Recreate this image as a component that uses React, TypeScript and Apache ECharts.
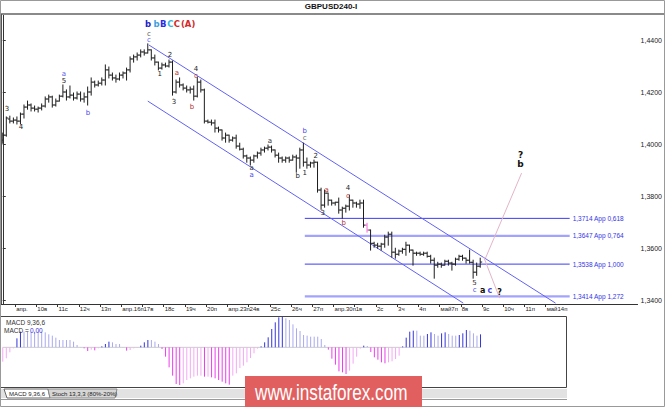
import React, { useEffect, useRef } from "react";
import * as echarts from "echarts";

// ---------------- data ----------------
const dayLabels = ["апр.", "10в", "11с", "12ч", "13п", "апр.16п", "17в", "18с", "19ч", "20п", "апр.23п", "24в", "25с", "26ч", "27п", "апр.30п", "1в", "2с", "3ч", "4п", "май7п", "8в", "9с", "10ч", "11п", "май14п"];
const barsPerDay = 6;
const firstDayBar = 4;
const slotCount = 180;

const opens = [
  1.4015, 1.4034, 1.4096, 1.4088, 1.4092, 1.4088, 1.4115, 1.4142, 1.4150, 1.4138,
  1.4134, 1.4138, 1.4146, 1.4173, 1.4181, 1.4150, 1.4165, 1.4184, 1.4200, 1.4181,
  1.4188, 1.4177, 1.4192, 1.4173, 1.4181, 1.4200, 1.4238, 1.4227, 1.4234, 1.4246,
  1.4285, 1.4265, 1.4254, 1.4250, 1.4265, 1.4273, 1.4285, 1.4327, 1.4335, 1.4342,
  1.4354, 1.4350, 1.4362, 1.4331, 1.4315, 1.4292, 1.4304, 1.4300, 1.4315, 1.4200,
  1.4238, 1.4227, 1.4215, 1.4208, 1.4211, 1.4184, 1.4238, 1.4208, 1.4088, 1.4084,
  1.4081, 1.4061, 1.4054, 1.4023, 1.4034, 1.4015, 1.4023, 1.3992, 1.3980, 1.3954,
  1.3946, 1.3938, 1.3954, 1.3965, 1.3977, 1.3984, 1.3988, 1.3977, 1.3957, 1.3946,
  1.3938, 1.3946, 1.3938, 1.3950, 1.3946, 1.3977, 1.3930, 1.3919, 1.3927, 1.3930,
  1.3823, 1.3765, 1.3811, 1.3784, 1.3773, 1.3776, 1.3746, 1.3753, 1.3761, 1.3784,
  1.3773, 1.3769, 1.3773, 1.3688, 1.3669, 1.3618, 1.3611, 1.3607, 1.3615, 1.3642,
  1.3653, 1.3584, 1.3576, 1.3588, 1.3595, 1.3611, 1.3592, 1.3580, 1.3580, 1.3576,
  1.3580, 1.3568, 1.3553, 1.3534, 1.3538, 1.3534, 1.3549, 1.3542, 1.3538, 1.3557,
  1.3568, 1.3561, 1.3553, 1.3545, 1.3507, 1.3530,
];
const highs = [
  1.4042, 1.4104, 1.4107, 1.4100, 1.4104, 1.4119, 1.4150, 1.4165, 1.4154, 1.4146,
  1.4142, 1.4154, 1.4181, 1.4188, 1.4184, 1.4173, 1.4188, 1.4227, 1.4208, 1.4223,
  1.4196, 1.4200, 1.4200, 1.4196, 1.4219, 1.4254, 1.4242, 1.4242, 1.4254, 1.4304,
  1.4296, 1.4273, 1.4265, 1.4273, 1.4277, 1.4292, 1.4335, 1.4342, 1.4350, 1.4362,
  1.4362, 1.4385, 1.4362, 1.4342, 1.4315, 1.4311, 1.4311, 1.4323, 1.4319, 1.4246,
  1.4254, 1.4231, 1.4223, 1.4219, 1.4223, 1.4258, 1.4246, 1.4211, 1.4092, 1.4092,
  1.4092, 1.4065, 1.4054, 1.4042, 1.4034, 1.4027, 1.4034, 1.4003, 1.3984, 1.3957,
  1.3950, 1.3957, 1.3969, 1.3984, 1.3988, 1.3996, 1.3992, 1.3977, 1.3965, 1.3950,
  1.3950, 1.3950, 1.3957, 1.3957, 1.3984, 1.4003, 1.3946, 1.3930, 1.3938, 1.3930,
  1.3830, 1.3823, 1.3811, 1.3784, 1.3776, 1.3792, 1.3757, 1.3765, 1.3803, 1.3784,
  1.3776, 1.3784, 1.3784, 1.3695, 1.3669, 1.3622, 1.3618, 1.3618, 1.3649, 1.3661,
  1.3661, 1.3599, 1.3592, 1.3599, 1.3622, 1.3611, 1.3592, 1.3584, 1.3584, 1.3584,
  1.3584, 1.3572, 1.3561, 1.3545, 1.3542, 1.3553, 1.3553, 1.3545, 1.3561, 1.3572,
  1.3572, 1.3561, 1.3592, 1.3553, 1.3542, 1.3561,
];
const lows = [
  1.4003, 1.4030, 1.4081, 1.4081, 1.4077, 1.4077, 1.4100, 1.4134, 1.4127, 1.4127,
  1.4123, 1.4131, 1.4142, 1.4161, 1.4142, 1.4146, 1.4165, 1.4181, 1.4169, 1.4177,
  1.4169, 1.4173, 1.4165, 1.4161, 1.4150, 1.4188, 1.4219, 1.4223, 1.4227, 1.4227,
  1.4254, 1.4246, 1.4238, 1.4246, 1.4254, 1.4246, 1.4277, 1.4315, 1.4323, 1.4335,
  1.4342, 1.4350, 1.4323, 1.4304, 1.4285, 1.4288, 1.4296, 1.4296, 1.4188, 1.4196,
  1.4219, 1.4208, 1.4200, 1.4196, 1.4169, 1.4181, 1.4200, 1.4081, 1.4081, 1.4073,
  1.4046, 1.4046, 1.4015, 1.4007, 1.4007, 1.4011, 1.3984, 1.3977, 1.3946, 1.3930,
  1.3919, 1.3930, 1.3946, 1.3957, 1.3969, 1.3977, 1.3969, 1.3950, 1.3930, 1.3930,
  1.3930, 1.3930, 1.3938, 1.3892, 1.3907, 1.3915, 1.3907, 1.3911, 1.3911, 1.3815,
  1.3749, 1.3757, 1.3765, 1.3765, 1.3765, 1.3734, 1.3715, 1.3738, 1.3746, 1.3757,
  1.3757, 1.3753, 1.3680, 1.3661, 1.3592, 1.3603, 1.3599, 1.3592, 1.3603, 1.3611,
  1.3565, 1.3561, 1.3572, 1.3580, 1.3572, 1.3584, 1.3534, 1.3572, 1.3572, 1.3572,
  1.3565, 1.3542, 1.3484, 1.3526, 1.3526, 1.3534, 1.3534, 1.3515, 1.3534, 1.3553,
  1.3553, 1.3542, 1.3542, 1.3484, 1.3495, 1.3526,
];
const closes = [
  1.4034, 1.4100, 1.4088, 1.4092, 1.4088, 1.4115, 1.4142, 1.4150, 1.4138, 1.4134,
  1.4138, 1.4146, 1.4173, 1.4181, 1.4150, 1.4165, 1.4184, 1.4200, 1.4181, 1.4188,
  1.4177, 1.4192, 1.4173, 1.4181, 1.4200, 1.4238, 1.4227, 1.4234, 1.4246, 1.4285,
  1.4265, 1.4254, 1.4250, 1.4265, 1.4273, 1.4285, 1.4327, 1.4335, 1.4342, 1.4354,
  1.4350, 1.4362, 1.4331, 1.4315, 1.4292, 1.4304, 1.4300, 1.4315, 1.4200, 1.4238,
  1.4227, 1.4215, 1.4208, 1.4211, 1.4184, 1.4238, 1.4208, 1.4088, 1.4084, 1.4081,
  1.4061, 1.4054, 1.4023, 1.4034, 1.4015, 1.4023, 1.3992, 1.3980, 1.3954, 1.3946,
  1.3938, 1.3954, 1.3965, 1.3977, 1.3984, 1.3988, 1.3977, 1.3957, 1.3946, 1.3938,
  1.3946, 1.3938, 1.3950, 1.3946, 1.3977, 1.3930, 1.3919, 1.3927, 1.3930, 1.3823,
  1.3765, 1.3811, 1.3784, 1.3773, 1.3776, 1.3746, 1.3753, 1.3761, 1.3784, 1.3773,
  1.3769, 1.3773, 1.3688, 1.3669, 1.3618, 1.3611, 1.3607, 1.3615, 1.3642, 1.3653,
  1.3584, 1.3576, 1.3588, 1.3595, 1.3611, 1.3592, 1.3580, 1.3580, 1.3576, 1.3580,
  1.3568, 1.3553, 1.3534, 1.3538, 1.3534, 1.3549, 1.3542, 1.3538, 1.3557, 1.3568,
  1.3561, 1.3553, 1.3545, 1.3507, 1.3530, 1.3546,
];
const highlightedBars = [103];

const macdHist = [
  -0.0043, -0.0033, -0.0015, -0.0003, 0.0027, 0.0047, 0.0047, 0.0047, 0.0047, 0.0047,
  0.0047, 0.0047, 0.0045, 0.0039, 0.0035, 0.0029, 0.0022, 0.0022, 0.0022, 0.0022,
  0.0017, 0.0007, 0.0001, -0.0003, -0.0011, -0.0007, -0.0009, -0.0003, 0.0003, 0.0010,
  0.0017, 0.0015, 0.0010, 0.0010, 0.0001, -0.0010, -0.0008, -0.0003, -0.0002, 0.0005,
  0.0015, 0.0022, 0.0022, 0.0017, 0.0010, -0.0005, -0.0028, -0.0060, -0.0085, -0.0110,
  -0.0113, -0.0108, -0.0098, -0.0093, -0.0088, -0.0085, -0.0085, -0.0088, -0.0088, -0.0090,
  -0.0093, -0.0098, -0.0103, -0.0108, -0.0112, -0.0085, -0.0078, -0.0062, -0.0055, -0.0045,
  -0.0032, -0.0018, -0.0004, 0.0003, 0.0015, 0.0030, 0.0055, 0.0075, 0.0090, 0.0092,
  0.0087, 0.0082, 0.0069, 0.0057, 0.0049, 0.0037, 0.0035, 0.0032, 0.0032, 0.0032,
  0.0025, 0.0007, -0.0007, -0.0034, -0.0052, -0.0072, -0.0075, -0.0080, -0.0070, -0.0049,
  -0.0028, -0.0004, 0.0005, 0.0004, -0.0014, -0.0030, -0.0037, -0.0045, -0.0048, -0.0045,
  -0.0042, -0.0035, -0.0025, 0.0003, 0.0029, 0.0047, 0.0050, 0.0050, 0.0035, 0.0035,
  0.0040, 0.0045, 0.0040, 0.0035, 0.0042, 0.0045, 0.0040, 0.0035, 0.0035, 0.0037,
  0.0042, 0.0052, 0.0050, 0.0042, 0.0035, 0.0039,
];

const priceTicks = [1.34, 1.36, 1.38, 1.4, 1.42, 1.44];
const lastPrice = 1.3546;

const levelPrices = [1.3714, 1.3647, 1.3538, 1.3414];
const levelRatios = ["0,618", "0,764", "1,000", "1,272"];
const levelStrong = [true, false, true, false];
const levelFromBar = 85.4;
const levelToBar = 160.3;

const upperChannel = [[41.3, 1.4381], [156.3, 1.3388]];
const lowerChannel = [[41.0, 1.4165], [130.2, 1.3388]];
const projectionDown = [[136.0, 1.3565], [140.5, 1.3407]];
const projectionUp = [[136.5, 1.3561], [146.7, 1.3888]];

const waveText = ["3", "4", "a", "5", "b", "c", "c", "b", "b", "B", "C", "C", "(A)", "1", "2", "a", "3", "4", "c", "b", "a", "a", "a", "b", "c", "b", "1", "2", "a", "3", "4", "c", "b", "5", "c", "a", "c", "?", "?", "b"];
const waveBar = [1.2, 5.15, 17.3, 17.3, 24.1, 41.3, 41.3, 41.1, 43.5, 45.4, 47.4, 49.2, 52.4, 44.4, 47.3, 49.2, 48.4, 54.6, 54.6, 53.5, 75.5, 70.4, 70.4, 85.4, 85.4, 83.4, 85.4, 88.5, 91.6, 90.5, 97.6, 97.6, 96.4, 133.4, 133.4, 135.7, 137.7, 140.5, 146.4, 146.4];
const wavePrice = [1.4134, 1.4065, 1.4269, 1.4242, 1.4119, 1.4425, 1.4400, 1.4461, 1.4461, 1.4461, 1.4461, 1.4461, 1.4461, 1.4269, 1.4342, 1.4273, 1.4161, 1.4289, 1.4262, 1.4142, 1.4011, 1.3907, 1.388, 1.405, 1.4023, 1.3876, 1.3888, 1.3953, 1.3823, 1.3734, 1.3830, 1.3800, 1.3695, 1.3464, 1.3438, 1.3438, 1.3438, 1.343, 1.3957, 1.3923];
const waveColor = ["#222", "#222", "#5a5af0", "#222", "#4848f0", "#555", "#5a5af0", "#1e1ec8", "#3aa0e0", "#2a2ae8", "#38b4e0", "#d42828", "#d42828", "#222", "#222", "#b03030", "#222", "#222", "#b03030", "#b03030", "#333", "#333", "#4848f0", "#4848f0", "#666", "#222", "#222", "#222", "#b03030", "#222", "#222", "#b03030", "#b03030", "#333", "#4848f0", "#111", "#4848f0", "#111", "#111", "#111"];
const waveSize = [7, 7, 7, 7, 7, 7, 7, 8.5, 8.5, 8.5, 8.5, 8.5, 8.5, 7, 7, 7, 7, 7, 7, 7, 7, 7, 7, 7, 7, 7, 7, 7, 7, 7, 7, 7, 7, 7, 7, 8, 8, 8, 9, 9];
const waveBold = [0, 0, 0, 0, 0, 0, 0, 1, 1, 1, 1, 1, 1, 0, 0, 0, 0, 0, 0, 0, 0, 0, 0, 0, 0, 0, 0, 0, 0, 0, 0, 0, 0, 0, 0, 1, 1, 1, 1, 1];

// ---------------- chart ----------------
const FONT = '"Liberation Sans", Arial, sans-serif';
const LABEL_FONT = '"DejaVu Sans", Verdana, sans-serif';
const fmtPrice = (v: number) => v.toFixed(4).replace(".", ",");

function buildOption(): any {
  const tickValues = dayLabels.map((_, d) => firstDayBar - 0.5 + d * barsPerDay);
  const ohlcData = opens.map((o, i) => [i, o, highs[i], lows[i], closes[i]]);
  const macdData = macdHist.map((v, i) => [i, v, i > 0 ? macdHist[i - 1] : v]);
  const waveData = waveText.map((_, i) => [waveBar[i], wavePrice[i], i]);

  const levelSeries = levelPrices.map((p, k) => ({
    type: "line",
    xAxisIndex: 0,
    yAxisIndex: 0,
    data: [[levelFromBar, p], [levelToBar, p]],
    symbol: "none",
    silent: true,
    z: 2,
    lineStyle: { color: levelStrong[k] ? "#3b3bf2" : "#a3a3ff", width: levelStrong[k] ? 1 : 2.2 },
    endLabel: {
      show: true,
      formatter: fmtPrice(p) + " App " + levelRatios[k],
      color: "#3535e6",
      fontSize: 6.5,
      fontFamily: FONT,
      distance: 3,
    },
  }));

  const simpleLine = (data: number[][], color: string, extra: any = {}) => ({
    type: "line",
    xAxisIndex: 0,
    yAxisIndex: 0,
    data,
    symbol: "none",
    silent: true,
    z: 2,
    lineStyle: { color, width: 1 },
    ...extra,
  });

  return {
    animation: false,
    backgroundColor: "#ffffff",
    grid: [
      { left: 1, top: 14, width: 637, height: 290 },
      { left: 1, top: 316, width: 637, height: 71 },
    ],
    xAxis: [
      {
        type: "value",
        gridIndex: 0,
        min: -0.5,
        max: slotCount - 0.5,
        axisLine: { show: true, onZero: false, lineStyle: { color: "#333", width: 1 } },
        axisTick: { show: true, customValues: tickValues, length: 3, lineStyle: { color: "#333" } },
        axisLabel: {
          show: true,
          customValues: tickValues,
          formatter: (v: number) => dayLabels[Math.round((v - (firstDayBar - 0.5)) / barsPerDay)] ?? "",
          align: "left",
          padding: [0, 0, 0, 1],
          margin: 2,
          fontSize: 6,
          fontFamily: FONT,
          color: "#222",
        },
        splitLine: { show: false },
      },
      {
        type: "value",
        gridIndex: 1,
        min: -0.5,
        max: slotCount - 0.5,
        show: false,
      },
    ],
    yAxis: [
      {
        type: "value",
        gridIndex: 0,
        position: "right",
        min: 1.338462,
        max: 1.45,
        axisLine: { show: true, lineStyle: { color: "#333", width: 1 } },
        axisTick: { show: true, customValues: priceTicks, length: 3, lineStyle: { color: "#333" } },
        axisLabel: {
          show: true,
          customValues: priceTicks,
          formatter: (v: number) => fmtPrice(v),
          margin: 3,
          fontSize: 7,
          fontFamily: FONT,
          color: "#222",
        },
        splitLine: { show: false },
      },
      {
        type: "value",
        gridIndex: 1,
        min: -0.0119,
        max: 0.0094,
        show: false,
      },
    ],
    series: [
      ...levelSeries,
      simpleLine(upperChannel, "#6262f4", {
        markLine: {
          silent: true,
          symbol: "none",
          lineStyle: { opacity: 0 },
          label: {
            show: true,
            position: "end",
            formatter: fmtPrice(lastPrice),
            backgroundColor: "#ffff00",
            color: "#000",
            fontSize: 7,
            fontFamily: FONT,
            padding: [2, 2, 1, 2],
            distance: 1,
          },
          data: [{ yAxis: lastPrice }],
        },
      }),
      simpleLine(lowerChannel, "#6262f4"),
      simpleLine(projectionDown, "#e4b4c8"),
      simpleLine(projectionUp, "#e4b4c8"),
      {
        type: "custom",
        xAxisIndex: 0,
        yAxisIndex: 0,
        z: 3,
        clip: true,
        data: ohlcData,
        encode: { x: 0, y: [1, 2, 3, 4] },
        renderItem: (params: any, api: any) => {
          const i = api.value(0);
          const o = api.coord([i, api.value(1)]);
          const h = api.coord([i, api.value(2)]);
          const l = api.coord([i, api.value(3)]);
          const c = api.coord([i, api.value(4)]);
          const stroke = highlightedBars.includes(i) ? "#f06cd8" : "#1c1c1c";
          const style = { stroke, lineWidth: 1 };
          return {
            type: "group",
            children: [
              { type: "line", shape: { x1: h[0], y1: h[1] - 0.5, x2: l[0], y2: l[1] + 0.5 }, style },
              { type: "line", shape: { x1: o[0] - 2, y1: o[1], x2: o[0], y2: o[1] }, style },
              { type: "line", shape: { x1: c[0], y1: c[1], x2: c[0] + 2, y2: c[1] }, style },
            ],
          };
        },
      },
      {
        type: "custom",
        xAxisIndex: 0,
        yAxisIndex: 0,
        z: 4,
        clip: false,
        data: waveData,
        encode: { x: 0, y: 1 },
        renderItem: (params: any, api: any) => {
          const idx = api.value(2);
          const pt = api.coord([api.value(0), api.value(1)]);
          return {
            type: "text",
            x: pt[0],
            y: pt[1],
            style: {
              text: waveText[idx],
              fill: waveColor[idx],
              fontSize: waveSize[idx],
              fontWeight: waveBold[idx] ? "bold" : "normal",
              fontFamily: LABEL_FONT,
              align: "center",
              verticalAlign: "middle",
            },
          };
        },
      },
      {
        type: "line",
        xAxisIndex: 1,
        yAxisIndex: 1,
        data: macdHist.map((_, i) => [i, 0]),
        symbol: "none",
        silent: true,
        lineStyle: { color: "#cccccc", width: 1 },
        z: 1,
      },
      {
        type: "custom",
        xAxisIndex: 1,
        yAxisIndex: 1,
        z: 3,
        clip: true,
        data: macdData,
        encode: { x: 0, y: 1 },
        renderItem: (params: any, api: any) => {
          const i = api.value(0);
          const v = api.value(1);
          const pv = api.value(2);
          const p0 = api.coord([i, 0]);
          const p1 = api.coord([i, v]);
          let color: string;
          if (v >= 0) color = v > pv ? "#3434e0" : "#a9a9f2";
          else color = v < pv ? "#ee3cee" : "#f5a8f5";
          return {
            type: "line",
            shape: { x1: p0[0], y1: p0[1], x2: p1[0], y2: p1[1] },
            style: { stroke: color, lineWidth: 1 },
          };
        },
      },
    ],
    graphic: [
      { type: "rect", shape: { x: 0, y: 13, width: 665, height: 2 }, style: { fill: "#8a8a8a" }, z: 10 },
      {
        type: "text", x: 331, y: 6, z: 10,
        style: { text: "GBPUSD240-I", fill: "#111", fontSize: 8, fontWeight: "bold", fontFamily: FONT, align: "center", verticalAlign: "middle" },
      },
      { type: "line", shape: { x1: 1.5, y1: 14, x2: 1.5, y2: 304 }, style: { stroke: "#555", lineWidth: 1 }, z: 10 },
      { type: "rect", shape: { x: 0.5, y: 316.5, width: 566, height: 71 }, style: { fill: "none", stroke: "#444", lineWidth: 1 }, z: 10 },
      {
        type: "text", x: 6, y: 322, z: 10,
        style: { text: "MACD 9,36,6", fill: "#333", fontSize: 6.5, fontFamily: FONT, align: "left", verticalAlign: "middle" },
      },
      {
        type: "text", x: 4, y: 330, z: 10,
        style: { text: "MACD =", fill: "#333", fontSize: 6.5, fontFamily: FONT, align: "left", verticalAlign: "middle" },
      },
      {
        type: "text", x: 30, y: 330, z: 10,
        style: { text: "0,00", fill: "#3434e0", fontSize: 6.5, fontFamily: FONT, align: "left", verticalAlign: "middle" },
      },
      { type: "rect", shape: { x: 0, y: 389, width: 567, height: 9 }, style: { fill: "#e2e2e2" }, z: 10 },
      {
        type: "polygon", z: 11,
        shape: { points: [[4, 389], [48, 389], [50, 398], [7, 398]] },
        style: { fill: "#ffffff", stroke: "#666", lineWidth: 1 },
      },
      {
        type: "polygon", z: 11,
        shape: { points: [[48, 389], [117, 389], [115, 398], [50, 398]] },
        style: { fill: "#d6d6d6", stroke: "#888", lineWidth: 1 },
      },
      {
        type: "text", x: 9, y: 394, z: 12,
        style: { text: "MACD 9,36,6", fill: "#222", fontSize: 6, fontFamily: FONT, align: "left", verticalAlign: "middle" },
      },
      {
        type: "text", x: 52, y: 394, z: 12,
        style: { text: "Stoch 13,3,3 (80%-20%)", fill: "#222", fontSize: 6, fontFamily: FONT, align: "left", verticalAlign: "middle" },
      },
      { type: "line", shape: { x1: 0, y1: 399.5, x2: 567, y2: 399.5 }, style: { stroke: "#999", lineWidth: 1 }, z: 10 },
      { type: "rect", shape: { x: 0.5, y: 0.5, width: 664, height: 406 }, style: { fill: "none", stroke: "#999", lineWidth: 1 }, z: 10 },
      { type: "rect", shape: { x: 245, y: 376, width: 177, height: 31 }, style: { fill: "#e15f5f" }, z: 20 },
      {
        type: "text", x: 255, y: 392, scaleX: 0.78, z: 21,
        style: { text: "www.instaforex.com", fill: "#ffffff", fontSize: 22, fontFamily: FONT, align: "left", verticalAlign: "middle" },
      },
    ],
  };
}

export default function App() {
  const ref = useRef<HTMLDivElement>(null);
  useEffect(() => {
    if (!ref.current) return;
    const chart = echarts.init(ref.current, undefined, { renderer: "svg" });
    chart.setOption(buildOption());
    return () => chart.dispose();
  }, []);
  return (
    <div
      ref={ref}
      style={{ position: "fixed", left: 0, top: 0, width: 665, height: 407, background: "#fff" }}
    />
  );
}
